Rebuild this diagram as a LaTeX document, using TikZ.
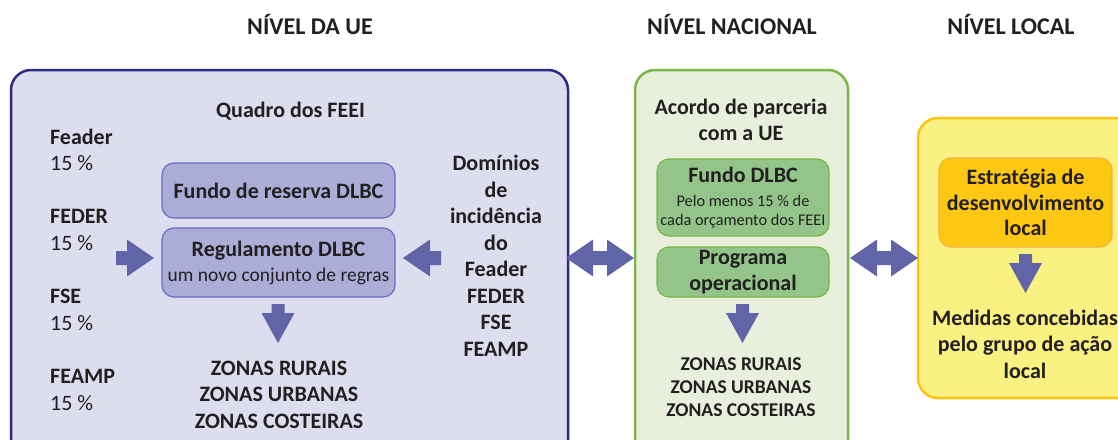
\documentclass[tikz,border=0pt]{standalone}
\usepackage{fontspec}
\setmainfont{Carlito}
\usetikzlibrary{positioning}

\definecolor{ink}{HTML}{231F20}
\definecolor{euline}{HTML}{2E2A85}
\definecolor{eufill}{HTML}{DCDDEE}
\definecolor{eubox}{HTML}{ABADD6}
\definecolor{euboxline}{HTML}{6A6CC0}
\definecolor{natline}{HTML}{7AB648}
\definecolor{natfill}{HTML}{E8EFDC}
\definecolor{natbox}{HTML}{93C58A}
\definecolor{natboxline}{HTML}{7AB648}
\definecolor{locline}{HTML}{F7C512}
\definecolor{locfill}{HTML}{FAF183}
\definecolor{locbox}{HTML}{FCC813}
\definecolor{locboxline}{HTML}{F4B23C}
\definecolor{arrowfill}{HTML}{6264A8}

\newcommand{\bodysize}{\fontsize{22}{26.5}\selectfont}
\newcommand{\midsize}{\fontsize{19.5}{23}\selectfont}
\newcommand{\notesize}{\fontsize{16.3}{19}\selectfont}

\tikzset{
  level/.style={font=\fontsize{24}{28}\selectfont\bfseries, text=ink},
  txt/.style={font=\bodysize\bfseries, text=ink, align=center, inner sep=0},
  pct/.style={font=\bodysize, text=ink, align=left, inner sep=0},
  panel/.style={rounded corners=20pt, line width=2.5pt},
  inbox/.style={rounded corners=12pt, line width=1.2pt, inner sep=0, align=center, text=ink},
  blockarrow/.style={fill=arrowfill, draw=none},
  pics/rarrow/.style={code={
    \path[blockarrow] (0,-7) -- (11,-7) -- (11,-18.5) -- (38,0) -- (11,18.5) -- (11,7) -- (0,7) -- cycle;}},
  pics/darrow/.style={code={
    \path[blockarrow] (-6.5,0) -- (6.5,0) -- (6.5,9) -- (16.5,9) -- (0,39) -- (-16.5,9) -- (-6.5,9) -- cycle;}},
  pics/twoway/.style={code={
    \path[blockarrow] (0,0) -- (27,-18.5) -- (27,-7) -- (41,-7) -- (41,-18.5) -- (68,0)
      -- (41,18.5) -- (41,7) -- (27,7) -- (27,18.5) -- cycle;}}
}

\begin{document}
\begin{tikzpicture}[x=1pt,y=-1pt]
  \clip (0,0) rectangle (1118,439);
  % headers
  \node[level] (hEU) at (310,25) {NÍVEL DA UE};
  \node[level] (hNat) at (732,25) {NÍVEL NACIONAL};
  \node[level] (hLoc) at (1011,25) {NÍVEL LOCAL};

  % the three panels
  \node[panel, draw=euline, fill=eufill, minimum width=557pt, minimum height=400pt] (eu) at (289.5,270) {};
  \node[panel, draw=natline, fill=natfill, minimum width=213pt, minimum height=400pt] (nat) at (741.5,270) {};
  \node[panel, draw=locline, fill=locfill, minimum width=240pt, minimum height=280pt] (loc) at (1038,258) {};

  % EU level
  \node[txt] (quadro) at (290.5,111) {Quadro dos FEEI};
  \node[pct, anchor=west] (feader) at (50,150) {\textbf{Feader}\\15 \%};
  \node[pct, anchor=west] (feder) at (50,230) {\textbf{FEDER}\\15 \%};
  \node[pct, anchor=west] (fse) at (50,310) {\textbf{FSE}\\15 \%};
  \node[pct, anchor=west] (feamp) at (50,390) {\textbf{FEAMP}\\15 \%};
  \node[inbox, draw=euboxline, fill=eubox, minimum width=233pt, minimum height=55pt, font=\bodysize\bfseries] (reserva) at (278.5,190.5) {Fundo de reserva DLBC};
  \node[inbox, draw=euboxline, fill=eubox, minimum width=233pt, minimum height=69pt, font=\midsize] (regul) at (278.5,262.5)
    {{\bodysize\bfseries Regulamento DLBC}\\[2pt]um novo conjunto de regras};
  \node[txt] (dominios) at (496,256) {Domínios\\de\\incidência\\do\\Feader\\FEDER\\FSE\\FEAMP};
  \node[txt] (zonasEU) at (279,394.5) {ZONAS RURAIS\\ZONAS URBANAS\\ZONAS COSTEIRAS};
  \pic at (116,258) {rarrow};
  \pic[xscale=-1] at (441,258) {rarrow};
  \pic at (278,304) {darrow};

  % national level
  \pic at (566,258) {twoway};
  \node[txt] (acordo) at (741,120) {Acordo de parceria\\com a UE};
  \node[inbox, draw=natboxline, fill=natbox, minimum width=172pt, minimum height=77pt, font=\notesize] (fundo) at (743,197.5)
    {{\bodysize\bfseries Fundo DLBC}\\[5pt]Pelo menos 15 \% de\\cada orçamento dos FEEI};
  \node[inbox, draw=natboxline, fill=natbox, minimum width=172pt, minimum height=50pt, font=\bodysize\bfseries] (programa) at (743,272)
    {Programa\\operacional};
  \node[txt, font=\midsize\bfseries] (zonasNat) at (741,387) {ZONAS RURAIS\\ZONAS URBANAS\\ZONAS COSTEIRAS};
  \pic at (742.5,304) {darrow};

  % local level
  \pic at (850,258) {twoway};
  \node[inbox, draw=locboxline, fill=locbox, minimum width=173pt, minimum height=89pt, font=\fontsize{22}{25.5}\selectfont\bfseries] (estrategia) at (1025.5,202.5)
    {Estratégia de\\desenvolvimento\\local};
  \pic at (1025.5,254) {darrow};
  \node[txt] (medidas) at (1025,344) {Medidas concebidas\\pelo grupo de ação\\local};
\end{tikzpicture}
\end{document}
